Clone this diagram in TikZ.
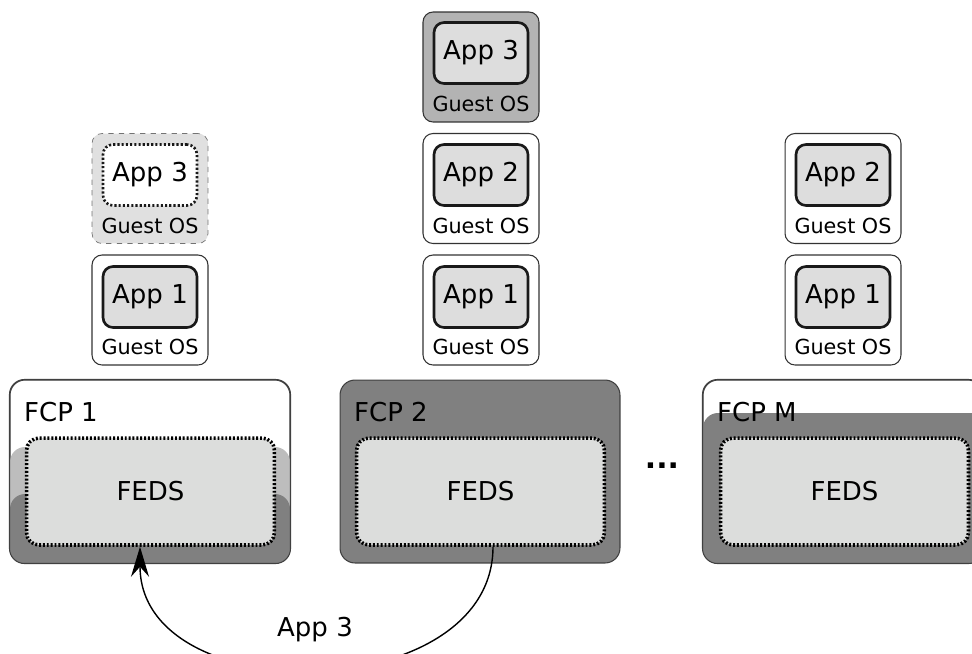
\documentclass[tikz,border=0pt]{standalone}
\usepackage{fontspec}
\setmainfont{DejaVu Sans}
\usepackage{xcolor}
\usetikzlibrary{arrows.meta}

\definecolor{appgray}{HTML}{DDDDDD}
\definecolor{fedsgray}{HTML}{DCDDDC}
\definecolor{ghostgray}{HTML}{E0E0E0}
\definecolor{topgray}{HTML}{B3B3B3}
\definecolor{bandlight}{HTML}{BDBDBD}
\definecolor{banddark}{HTML}{808080}
\newcommand{\fcpfont}{\fontsize{14.8}{17}\selectfont}
\newcommand{\osfont}{\fontsize{11.8}{14}\selectfont}

\begin{document}
\begin{tikzpicture}[x=0.02cm,y=-0.02cm,
  guest/.style={draw=black!80,line width=0.6pt,rounded corners=0.2cm,fill=white,
    minimum width=2.32cm,minimum height=2.2cm},
  app/.style={draw=black!90,line width=1.5pt,rounded corners=0.2cm,fill=appgray,
    minimum width=1.88cm,minimum height=1.22cm,font=\fcpfont},
  osname/.style={font=\osfont},
  fcp/.style={draw=black!75,line width=0.6pt,rounded corners=0.3cm,
    minimum width=5.6cm,minimum height=3.66cm},
  feds/.style={draw=black,line width=2pt,dash pattern=on 1.1pt off 1.1pt,
    rounded corners=0.25cm,fill=fedsgray,minimum width=4.96cm,minimum height=2.14cm,
    font=\fcpfont},
  fcpname/.style={anchor=west,font=\fcpfont}]
\clip (0,0) rectangle (972,653);
% column 1
\node[guest,fill=ghostgray,draw=black!55,dashed,line width=0.4pt] (g1b) at (150,188.5) {};
\node[app,fill=white,dash pattern=on 1.2pt off 1.2pt] (a1b) at (150,175) {App 3};
\node[osname] (o1b) at (150,226) {Guest OS};
\node[guest] (g1a) at (150,310) {};
\node[app] (a1a) at (150,297) {App 1};
\node[osname] (o1a) at (150,347) {Guest OS};
% column 2
\node[guest,fill=topgray] (g2c) at (481,67) {};
\node[app] (a2c) at (481,53) {App 3};
\node[osname] (o2c) at (481,104) {Guest OS};
\node[guest] (g2b) at (481,188.5) {};
\node[app] (a2b) at (481,175) {App 2};
\node[osname] (o2b) at (481,226) {Guest OS};
\node[guest] (g2a) at (481,310) {};
\node[app] (a2a) at (481,297) {App 1};
\node[osname] (o2a) at (481,347) {Guest OS};
% column 3
\node[guest] (g3b) at (843,188.5) {};
\node[app] (a3b) at (843,175) {App 2};
\node[osname] (o3b) at (843,226) {Guest OS};
\node[guest] (g3a) at (843,310) {};
\node[app] (a3a) at (843,297) {App 1};
\node[osname] (o3a) at (843,347) {Guest OS};
% FCP 1
\node[fcp,fill=white] (fcp1) at (150,471.5) {};
\begin{scope}
\clip[rounded corners=0.3cm] (fcp1.north west) rectangle (fcp1.south east);
\fill[bandlight,rounded corners=0.3cm] (10,447) rectangle (290,600);
\fill[banddark,rounded corners=0.3cm] (10,494) rectangle (290,600);
\end{scope}
\draw[black!75,line width=0.6pt,rounded corners=0.3cm] (fcp1.north west) rectangle (fcp1.south east);
\node[fcpname] (n1) at (18,412) {FCP 1};
\node[feds] (feds1) at (150.5,491.5) {FEDS};
% FCP 2
\node[fcp,fill=banddark] (fcp2) at (480,471.5) {};
\node[fcpname] (n2) at (348,412) {FCP 2};
\node[feds] (feds2) at (480.5,491.5) {FEDS};
% dots
\node[font=\fontsize{17}{20}\bfseries] (dots) at (662,466) {...};
% FCP M
\node[fcp,fill=white] (fcpm) at (843,471.5) {};
\begin{scope}
\clip[rounded corners=0.3cm] (fcpm.north west) rectangle (fcpm.south east);
\fill[banddark,rounded corners=0.3cm] (703,413) rectangle (990,600);
\end{scope}
\draw[black!75,line width=0.6pt,rounded corners=0.3cm] (fcpm.north west) rectangle (fcpm.south east);
\node[fcpname] (nm) at (711,412) {FCP M};
\node[feds] (fedsm) at (844.5,491.5) {FEDS};
% migration
\coordinate (src) at ([xshift=0.25cm]feds2.south);
\coordinate (dst) at ([xshift=-0.21cm]feds1.south);
\draw[line width=0.8pt,-{Stealth[length=0.6cm,width=0.36cm,inset=0.2cm]}] (src) .. controls +(0,160) and +(0,165) .. (dst);
\node[font=\fcpfont] (lbl) at (315,630) {App 3};
\end{tikzpicture}
\end{document}
